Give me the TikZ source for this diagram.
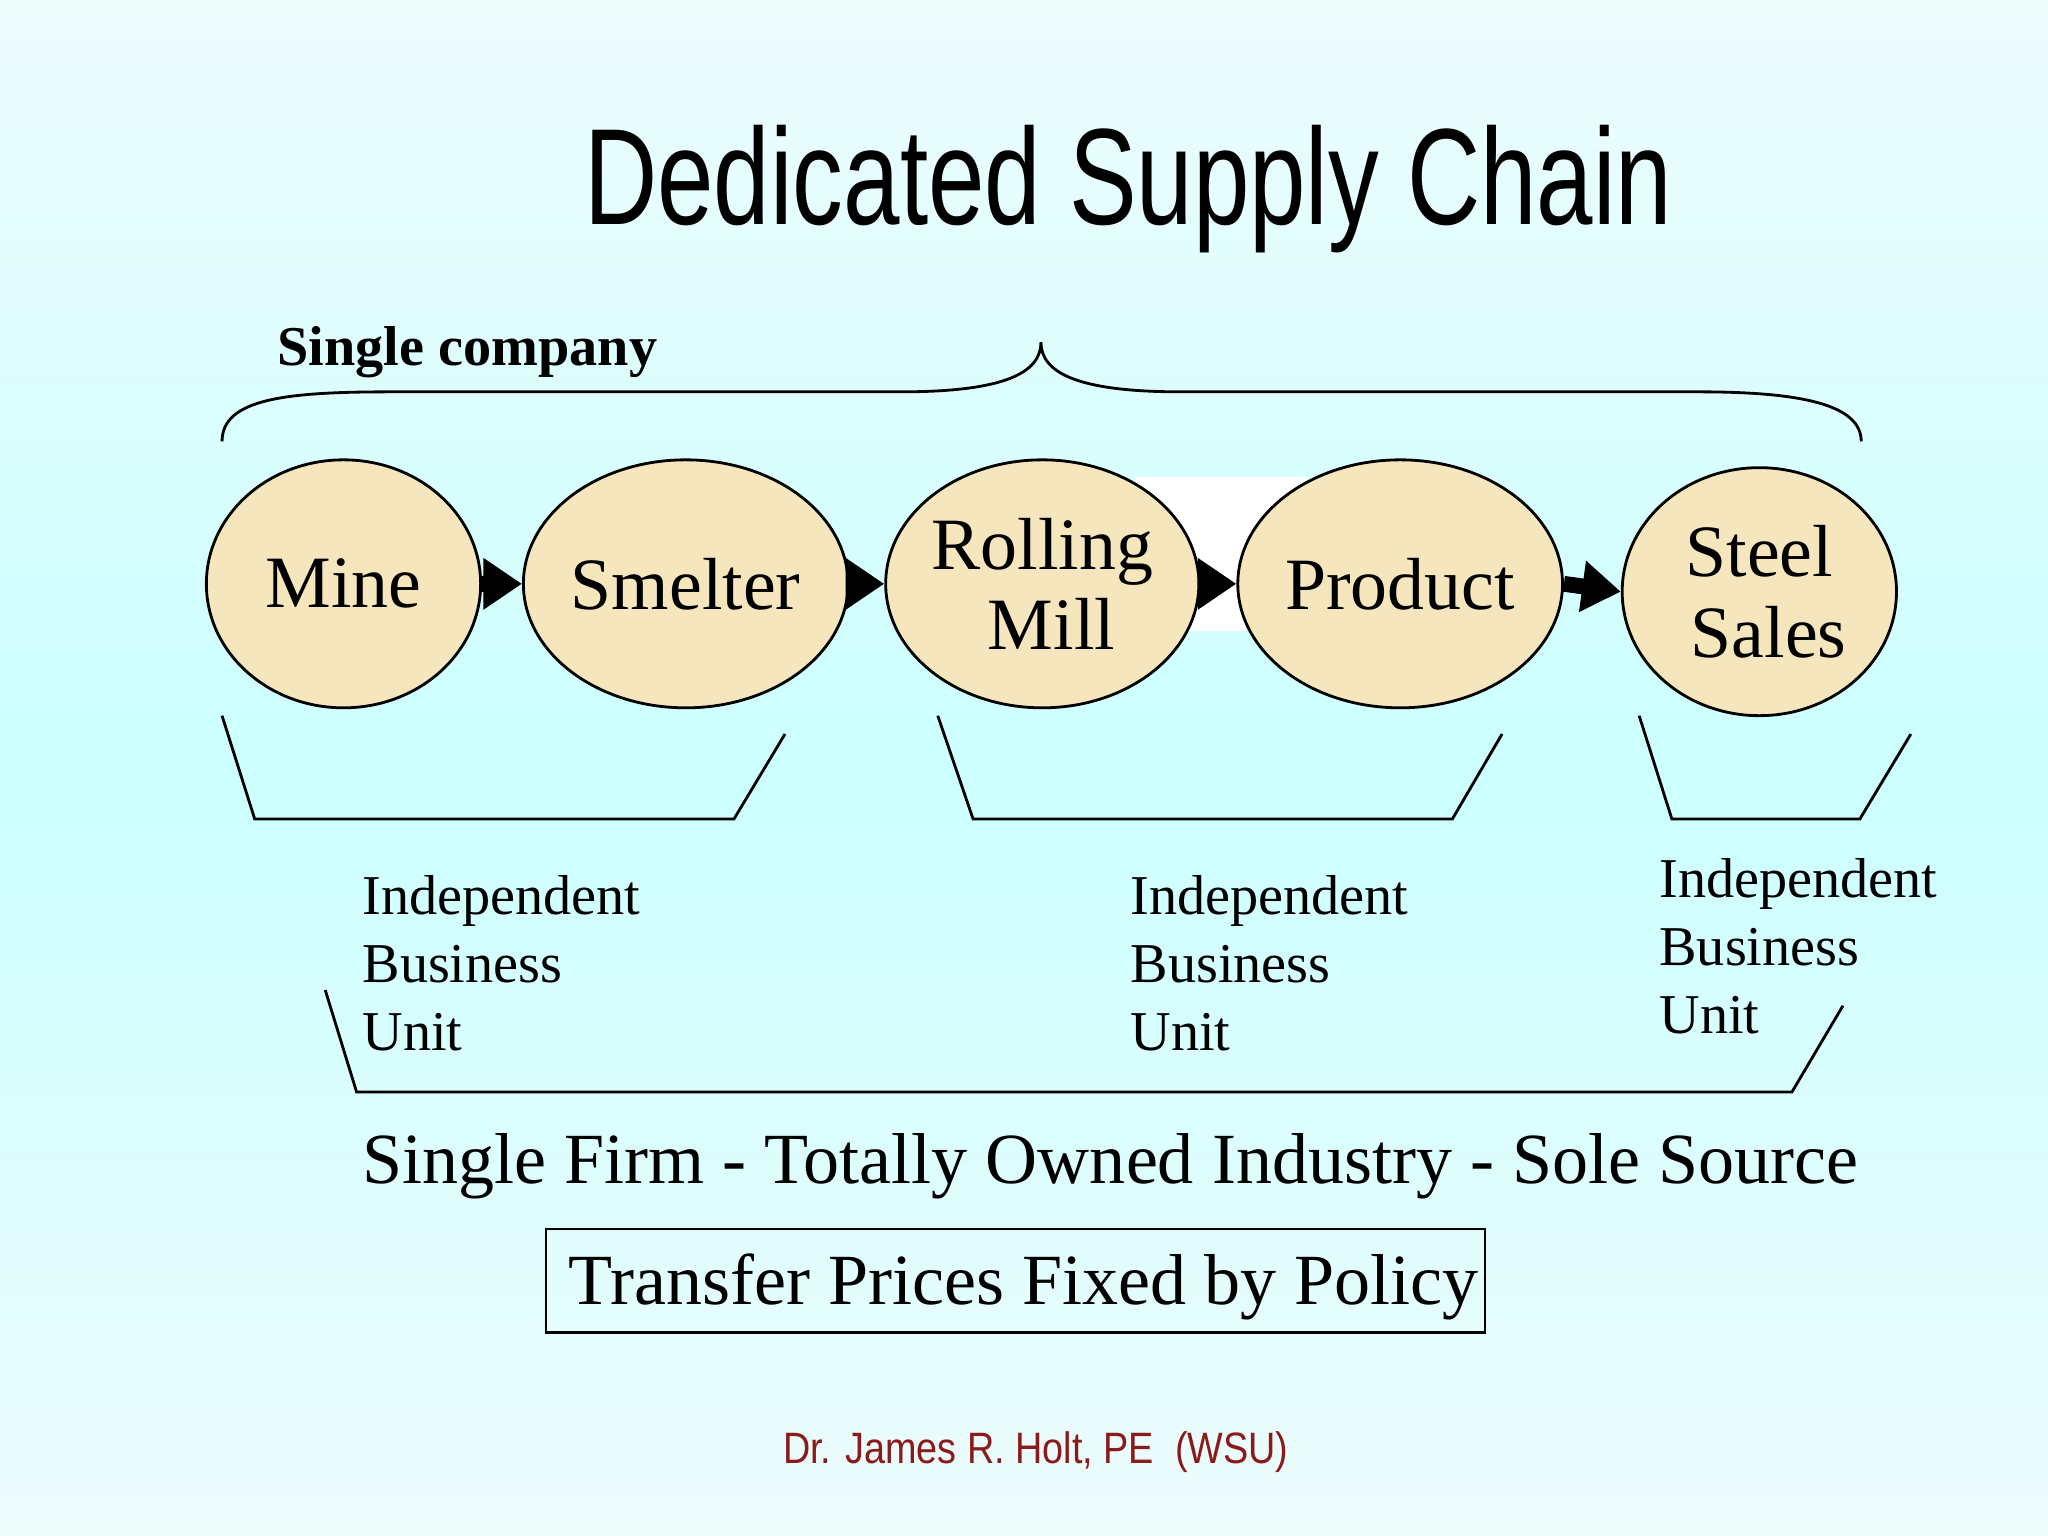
\documentclass[tikz,border=0pt]{standalone}
\usepackage{fontspec}
\setmainfont{Liberation Serif}
\newfontfamily\sans{Liberation Sans}
\usetikzlibrary{shapes.geometric,arrows.meta}
\definecolor{bgtop}{HTML}{EEFCFC}
\definecolor{bgmid}{HTML}{CCFFFF}
\definecolor{bgbot}{HTML}{EEFCFC}
\definecolor{stage}{HTML}{F5E6BD}
\definecolor{foot}{HTML}{8B1A1A}
\begin{document}
\begin{tikzpicture}[x=0.013061cm,y=-0.013061cm,
  stage/.style={ellipse,draw=black,line width=0.8pt,fill=stage,minimum width=2.743cm,minimum height=2.48cm,inner sep=0pt,font=\fontsize{21}{23}\selectfont,align=center},
  flow/.style={line width=4.5pt,-{Triangle[length=11pt,width=14pt]}},
  brk/.style={line width=0.8pt},
  ibu/.style={anchor=north west,align=left,font=\fontsize{16}{19.3}\selectfont,inner sep=0pt}]
\shade[top color=bgtop,bottom color=bgbot,middle color=bgmid] (0,0) rectangle (1568,1176);
\useasboundingbox (0,0) rectangle (1568,1176);
\fill[white] (870,365) rectangle (1000,483);
\node[font=\sans\fontsize{39}{44}\selectfont,xscale=0.74] (title) at (864,145) {Dedicated Supply Chain};
\node[anchor=west,font=\bfseries\fontsize{16}{19}\selectfont,inner sep=0pt] (sc) at (212,270) {Single company};
\draw[brk] (170,338) .. controls (170,305) and (220,300) .. (300,300) -- (690,300) .. controls (770,300) and (797,285) .. (797,262)
  .. controls (797,285) and (824,300) .. (904,300) -- (1300,300) .. controls (1380,300) and (1425,310) .. (1425,338);
\node[stage] (mine) at (263,447) {Mine};
\node[stage] (smelter) at (525,447) {Smelter};
\node[stage] (mill) at (798,447) {Rolling\\\ Mill};
\node[stage] (product) at (1072,447) {Product};
\node[stage] (sales) at (1347,453) {Steel\\\ Sales};
\draw[flow] (mine) -- (smelter);
\draw[flow] (smelter) -- (mill);
\draw[flow] (mill) -- (product);
\draw[flow] (product.east) -- (sales.west);
\draw[brk] (170,548)--(195,627)--(562,627)--(601,562);
\draw[brk] (718,548)--(745,627)--(1112,627)--(1150,562);
\draw[brk] (1255,548)--(1280,627)--(1424,627)--(1463,562);
\draw[brk] (249,758)--(273,836)--(1372,836)--(1411,770);
\node[ibu] (u1) at (277,670) {Independent\\Business\\Unit};
\node[ibu] (u2) at (865,670) {Independent\\Business\\Unit};
\node[ibu] (u3) at (1270,657) {Independent\\Business\\Unit};
\node[anchor=west,inner sep=0pt,font=\fontsize{20.5}{24}\selectfont] (firm) at (277,893) {Single Firm - Totally Owned Industry - Sole Source};
\draw[line width=0.8pt] (418,941) rectangle (1137,1020);
\node[anchor=west,inner sep=0pt,font=\fontsize{20.5}{24}\selectfont] (tp) at (435,985) {Transfer Prices Fixed by Policy};
\node[font=\sans\fontsize{12.5}{14}\selectfont,text=foot,xscale=0.86] (ft) at (793,1112) {Dr. James R. Holt, PE\ \ (WSU)};
\end{tikzpicture}
\end{document}
